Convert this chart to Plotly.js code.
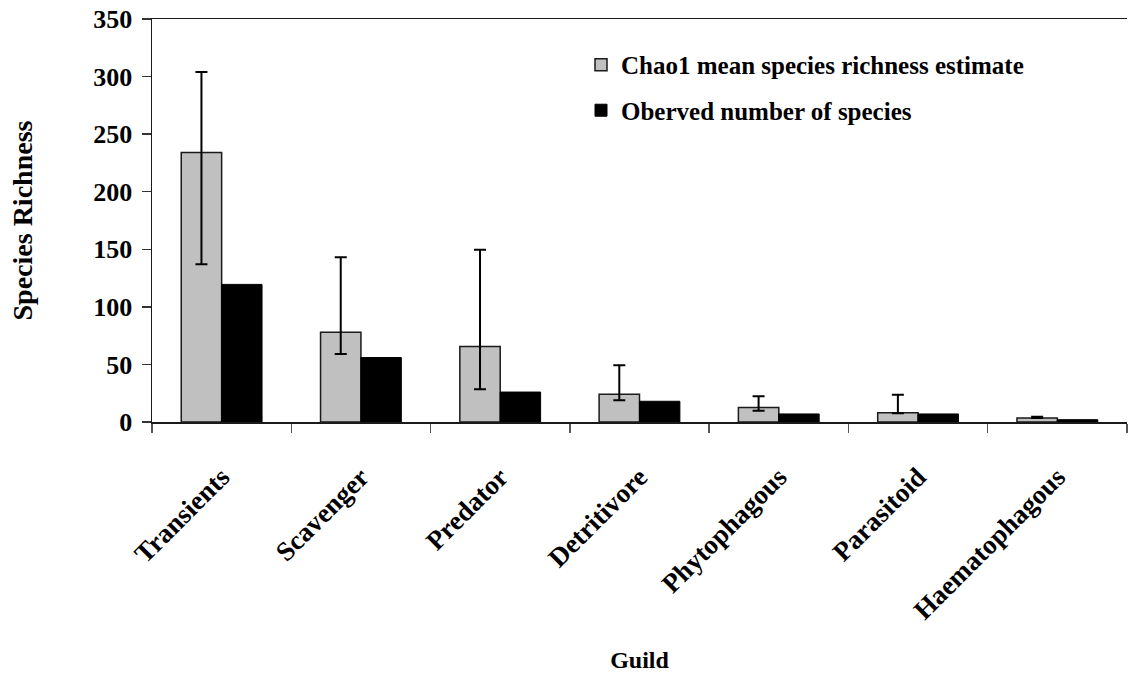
<!DOCTYPE html>
<html>
<head>
<meta charset="utf-8">
<script src="https://cdn.plot.ly/plotly-3.0.1.min.js"></script>
<style>html,body{margin:0;padding:0;background:#fff;}#chart{width:1128px;height:677px;}</style>
</head>
<body>
<div id="chart"></div>
<script>
var guilds = ["Transients", "Scavenger", "Predator", "Detritivore", "Phytophagous", "Parasitoid", "Haematophagous"];
var chao1Mean = [234, 78, 65.5, 24, 12.7, 8, 3.5];
var chao1ErrPlus = [70, 65, 84, 25.2, 9.6, 15.7, 1];
var chao1ErrMinus = [97, 19, 37, 5.2, 2.9, 0.3, 0];
var observed = [119.5, 56, 26, 18, 7, 7, 2];

var fontFam = '"Liberation Serif", "Times New Roman", Times, serif';

var traces = [
  {
    type: 'bar',
    name: 'Chao1 mean species richness estimate',
    x: guilds,
    y: chao1Mean,
    legendgroup: 'a',
    marker: {color: '#C0C0C0', line: {color: '#1a1a1a', width: 1.5}},
    error_y: {type: 'data', symmetric: false, array: chao1ErrPlus, arrayminus: chao1ErrMinus,
              color: '#000', thickness: 2, width: 6}
  },
  {
    type: 'bar',
    name: 'Oberved number of species',
    x: guilds,
    y: observed,
    legendgroup: 'b',
    marker: {color: '#000000', line: {color: '#000', width: 1}}
  }
];

var layout = {
  width: 1128, height: 677,
  margin: {l: 152, r: 1, t: 19, b: 255},
  paper_bgcolor: '#fff', plot_bgcolor: '#fff',
  barmode: 'group',
  bargap: 0.42, bargroupgap: 0,
  font: {family: fontFam, color: '#000', size: 24},
  showlegend: true,
  legend: {
    x: 0.44, y: 0.943, xanchor: 'left', yanchor: 'top',
    bgcolor: 'rgba(0,0,0,0)',
    font: {family: fontFam, size: 25, color: '#000', weight: 'bold'},
    traceorder: 'grouped', tracegroupgap: 10
  },
  xaxis: {
    type: 'category',
    showline: true, linecolor: '#1a1a1a', linewidth: 1.5,
    mirror: true,
    ticks: 'outside', tickson: 'boundaries', ticklen: 9, tickcolor: '#555', tickwidth: 1.5,
    tickangle: -45,
    ticklabelstandoff: 27,
    tickfont: {family: fontFam, size: 27, color: '#000', weight: 'bold'},
    showgrid: false, zeroline: false,
    title: {text: 'Guild', standoff: 27, font: {family: fontFam, size: 24, color: '#000', weight: 'bold'}}
  },
  yaxis: {
    range: [0, 350], dtick: 50, tick0: 0,
    showline: true, linecolor: '#1a1a1a', linewidth: 1.5,
    ticks: 'outside', ticklen: 9, tickcolor: '#333', tickwidth: 1.5,
    ticklabelstandoff: 4,
    tickfont: {family: fontFam, size: 26, color: '#000', weight: 'bold'},
    showgrid: false, zeroline: false,
    title: {text: 'Species Richness', standoff: 52, font: {family: fontFam, size: 28, color: '#000', weight: 'bold'}}
  }
};

Plotly.newPlot('chart', traces, layout, {displayModeBar: false, staticPlot: true});
</script>
</body>
</html>
